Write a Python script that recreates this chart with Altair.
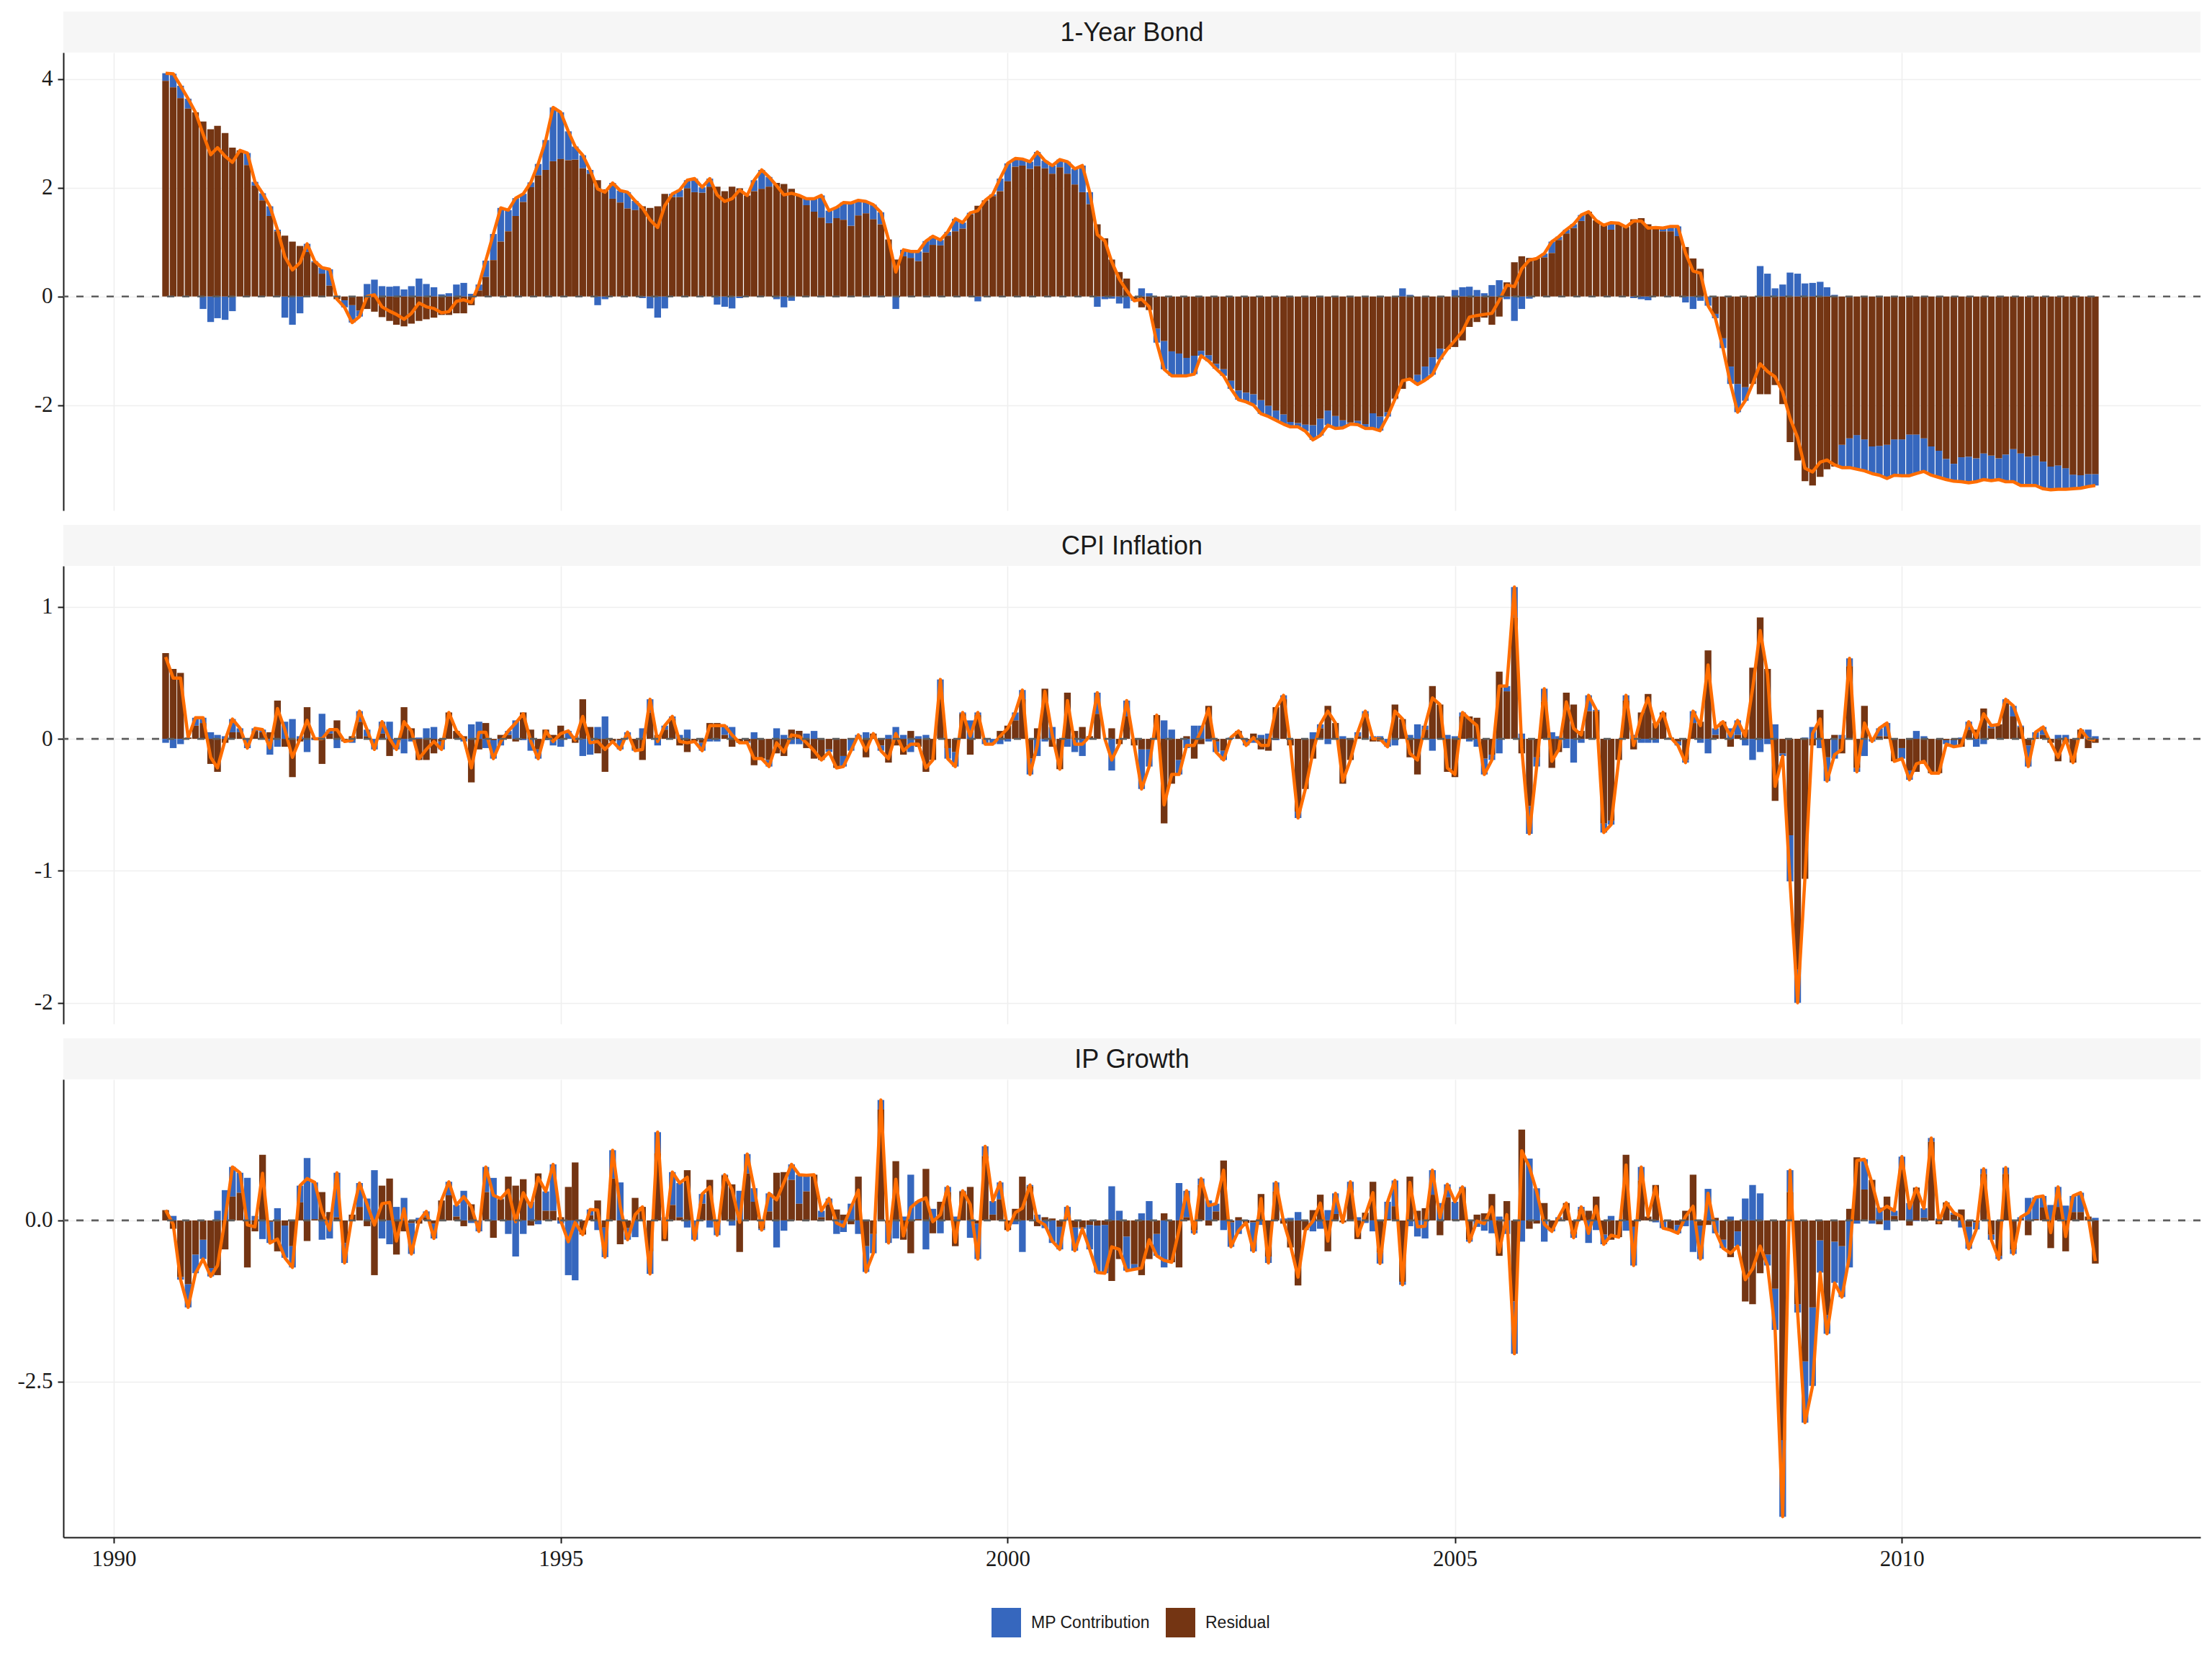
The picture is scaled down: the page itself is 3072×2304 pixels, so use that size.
import altair as alt
import pandas as pd

# ---------------- data ----------------
dates = pd.date_range("1990-08-01", periods=260, freq="MS").strftime("%Y-%m-%d").tolist()

panel_titles = ["1-Year Bond", "CPI Inflation", "IP Growth"]
components = ["MP Contribution", "Residual"]

bond_res = [
    3.97, 3.85, 3.65, 3.46, 3.39, 3.22, 3.08, 3.14, 3.01, 2.74,
    2.69, 2.42, 2.04, 1.77, 1.48, 1.20, 1.12, 1.01, 0.93, 0.82,
    0.63, 0.42, 0.20, -0.05, -0.07, -0.16, -0.26, -0.23, -0.28, -0.38,
    -0.45, -0.52, -0.55, -0.50, -0.45, -0.42, -0.39, -0.34, -0.34, -0.31,
    -0.31, -0.16, 0.11, 0.36, 0.67, 1.01, 1.20, 1.48, 1.74, 2.01,
    2.23, 2.33, 2.49, 2.53, 2.51, 2.52, 2.36, 2.26, 2.14, 1.97,
    1.80, 1.73, 1.62, 1.59, 1.66, 1.63, 1.66, 1.89, 1.83, 1.83,
    1.99, 1.92, 1.91, 2.02, 2.02, 1.94, 2.02, 1.99, 1.86, 1.94,
    1.98, 2.02, 2.09, 2.07, 1.98, 1.86, 1.68, 1.56, 1.45, 1.35,
    1.44, 1.41, 1.30, 1.49, 1.53, 1.42, 1.33, 1.05, 0.68, 0.74,
    0.71, 0.65, 0.81, 0.95, 0.94, 1.12, 1.20, 1.25, 1.51, 1.67,
    1.77, 1.85, 1.94, 2.12, 2.39, 2.41, 2.35, 2.40, 2.36, 2.26,
    2.38, 2.26, 2.06, 1.92, 1.70, 1.33, 1.07, 0.68, 0.45, 0.33,
    -0.05, -0.20, -0.25, -0.59, -0.82, -1.01, -1.05, -1.13, -1.09, -1.00,
    -1.08, -1.24, -1.34, -1.55, -1.73, -1.77, -1.80, -1.91, -2.01, -2.10,
    -2.17, -2.31, -2.33, -2.36, -2.37, -2.25, -2.10, -2.20, -2.28, -2.32,
    -2.29, -2.35, -2.15, -2.21, -2.13, -1.88, -1.70, -1.55, -1.44, -1.29,
    -1.12, -0.96, -0.97, -0.93, -0.81, -0.56, -0.47, -0.39, -0.52, -0.37,
    0.26, 0.63, 0.74, 0.71, 0.70, 0.72, 0.80, 1.04, 1.16, 1.26,
    1.39, 1.56, 1.40, 1.31, 1.23, 1.35, 1.28, 1.42, 1.44, 1.33,
    1.27, 1.20, 1.20, 1.11, 0.91, 0.70, 0.51, -0.01, -0.32, -0.77,
    -1.29, -1.61, -1.67, -1.61, -1.80, -1.80, -1.63, -1.98, -2.68, -3.02,
    -3.40, -3.48, -3.32, -3.18, -3.13, -2.73, -2.61, -2.55, -2.63, -2.76,
    -2.75, -2.73, -2.63, -2.63, -2.54, -2.54, -2.61, -2.76, -2.84, -2.99,
    -3.08, -2.96, -2.95, -2.98, -2.89, -2.93, -2.98, -2.91, -2.81, -2.89,
    -2.95, -2.93, -3.04, -3.13, -3.11, -3.16, -3.28, -3.29, -3.27, -3.27,
]
bond_mp = [
    0.14, 0.25, 0.23, 0.18, 0.00, -0.23, -0.47, -0.40, -0.43, -0.27,
    0.00, 0.22, 0.07, 0.13, 0.18, 0.03, -0.39, -0.52, -0.31, 0.15,
    0.02, 0.11, 0.30, 0.00, -0.13, -0.32, -0.11, 0.23, 0.31, 0.19,
    0.18, 0.19, 0.13, 0.19, 0.33, 0.23, 0.17, 0.04, 0.06, 0.22,
    0.25, 0.05, 0.11, 0.30, 0.48, 0.62, 0.39, 0.33, 0.15, 0.09,
    0.21, 0.55, 0.99, 0.86, 0.53, 0.24, 0.24, 0.07, -0.16, -0.05,
    0.29, 0.22, 0.30, 0.17, -0.03, -0.22, -0.39, -0.22, 0.06, 0.13,
    0.15, 0.25, 0.10, 0.15, -0.15, -0.19, -0.22, -0.03, 0.00, 0.20,
    0.35, 0.18, -0.05, -0.20, -0.08, 0.00, 0.12, 0.24, 0.41, 0.23,
    0.20, 0.32, 0.42, 0.28, 0.22, 0.27, 0.22, 0.00, -0.23, 0.12,
    0.12, 0.18, 0.21, 0.16, 0.10, 0.07, 0.23, 0.11, 0.03, -0.09,
    0.00, 0.03, 0.23, 0.33, 0.15, 0.12, 0.13, 0.26, 0.14, 0.15,
    0.14, 0.22, 0.29, 0.49, 0.22, -0.19, -0.05, -0.04, -0.13, -0.22,
    -0.03, 0.15, 0.06, -0.26, -0.52, -0.45, -0.41, -0.33, -0.34, -0.09,
    -0.11, -0.09, -0.12, -0.15, -0.17, -0.17, -0.20, -0.25, -0.20, -0.18,
    -0.18, -0.09, -0.07, -0.12, -0.27, -0.31, -0.27, -0.23, -0.14, -0.03,
    -0.07, -0.08, -0.28, -0.26, -0.08, -0.01, 0.15, 0.03, -0.18, -0.25,
    -0.32, -0.20, 0.00, 0.12, 0.17, 0.18, 0.12, 0.06, 0.21, 0.30,
    -0.05, -0.45, -0.23, -0.04, 0.00, 0.07, 0.21, 0.06, 0.07, 0.07,
    0.11, 0.00, 0.00, 0.00, 0.13, 0.00, 0.00, -0.03, -0.05, -0.07,
    0.00, 0.06, 0.09, 0.18, -0.11, -0.23, -0.08, -0.16, -0.08, -0.18,
    -0.32, -0.52, -0.25, 0.00, 0.56, 0.42, 0.15, 0.22, 0.44, 0.42,
    0.24, 0.25, 0.27, 0.17, 0.03, -0.42, -0.54, -0.63, -0.58, -0.50,
    -0.54, -0.62, -0.66, -0.67, -0.76, -0.72, -0.61, -0.53, -0.49, -0.38,
    -0.32, -0.45, -0.48, -0.43, -0.48, -0.46, -0.39, -0.50, -0.60, -0.59,
    -0.53, -0.55, -0.50, -0.43, -0.44, -0.39, -0.26, -0.24, -0.23, -0.21,
]

cpi_res = [
    0.65, 0.53, 0.50, 0.01, 0.10, 0.12, -0.19, -0.25, -0.03, 0.05,
    0.05, 0.00, 0.06, 0.05, 0.05, 0.29, -0.06, -0.29, -0.02, 0.24,
    0.01, -0.19, 0.04, 0.14, -0.02, 0.02, 0.13, 0.02, 0.00, 0.04,
    -0.13, 0.00, 0.24, 0.08, -0.16, -0.16, -0.11, -0.02, 0.20, 0.06,
    0.02, -0.33, -0.08, 0.12, -0.01, 0.03, 0.03, -0.02, 0.20, 0.07,
    -0.08, 0.07, 0.03, 0.10, 0.00, -0.03, 0.30, 0.09, -0.11, -0.25,
    -0.02, -0.01, 0.00, -0.08, -0.16, 0.20, 0.03, 0.07, 0.15, -0.05,
    -0.10, -0.02, -0.03, 0.12, 0.12, 0.03, -0.06, -0.03, -0.02, -0.20,
    -0.15, -0.16, -0.11, -0.13, 0.07, 0.06, -0.07, -0.15, -0.16, -0.08,
    -0.22, -0.13, 0.00, 0.00, -0.14, 0.04, -0.05, -0.18, -0.05, -0.12,
    0.06, -0.06, -0.25, -0.16, 0.30, -0.07, -0.10, 0.19, -0.12, 0.18,
    0.00, 0.00, 0.06, 0.10, 0.14, 0.30, -0.15, 0.08, 0.38, -0.06,
    -0.23, 0.35, 0.06, 0.09, 0.02, 0.19, 0.00, 0.08, -0.04, 0.17,
    -0.05, -0.08, -0.08, 0.18, -0.64, -0.34, -0.16, 0.02, -0.15, -0.04,
    0.25, -0.02, -0.09, 0.00, 0.06, -0.01, 0.04, -0.08, -0.09, 0.24,
    0.30, -0.05, -0.55, -0.38, -0.15, 0.08, 0.25, 0.12, -0.34, -0.16,
    0.02, 0.19, -0.02, -0.02, 0.00, 0.26, 0.15, -0.14, -0.27, 0.07,
    0.40, 0.26, -0.25, -0.29, 0.17, 0.17, 0.16, -0.15, -0.12, 0.51,
    0.36, 0.92, -0.11, -0.51, -0.14, 0.28, -0.22, -0.10, 0.35, 0.26,
    0.06, 0.21, 0.21, -0.64, -0.62, -0.16, 0.29, -0.08, 0.20, 0.34,
    0.12, 0.20, 0.01, -0.02, -0.16, 0.12, 0.13, 0.67, 0.03, 0.13,
    -0.06, 0.03, 0.07, 0.54, 0.92, 0.53, -0.47, -0.11, -0.73, -1.75,
    -1.06, -0.05, 0.22, -0.14, 0.03, -0.11, 0.55, -0.22, 0.25, 0.00,
    0.02, 0.02, -0.17, -0.07, -0.24, -0.25, -0.19, -0.26, -0.26, -0.01,
    -0.01, -0.06, 0.07, 0.07, 0.23, 0.08, 0.11, 0.27, 0.17, 0.09,
    -0.05, 0.01, 0.03, -0.03, -0.17, -0.03, -0.18, 0.07, -0.07, -0.03,
]
cpi_mp = [
    -0.03, -0.07, -0.04, 0.00, 0.06, 0.04, 0.05, 0.03, 0.02, 0.10,
    0.03, -0.07, 0.02, 0.02, -0.12, -0.06, 0.13, 0.15, 0.02, -0.10,
    -0.01, 0.19, 0.03, -0.07, 0.00, -0.03, 0.08, 0.05, -0.08, 0.09,
    0.13, -0.08, -0.11, -0.02, 0.01, 0.08, 0.09, -0.06, 0.00, 0.00,
    -0.02, 0.11, 0.13, -0.07, -0.14, -0.05, 0.03, 0.14, -0.01, -0.09,
    -0.07, -0.01, -0.05, -0.06, 0.06, 0.02, -0.13, -0.12, 0.09, 0.17,
    0.00, -0.07, 0.05, -0.01, 0.08, 0.10, -0.05, 0.03, 0.02, 0.03,
    0.07, 0.00, -0.06, -0.02, -0.02, 0.07, 0.09, 0.00, -0.01, 0.05,
    0.00, -0.05, 0.08, 0.03, -0.04, -0.04, 0.04, 0.06, 0.00, -0.02,
    0.00, -0.08, -0.09, 0.03, 0.05, 0.00, -0.04, 0.03, 0.09, 0.03,
    -0.10, 0.02, 0.03, 0.00, 0.15, -0.08, -0.11, 0.01, 0.14, 0.02,
    -0.04, -0.04, -0.04, -0.02, 0.06, 0.07, -0.12, -0.13, -0.02, 0.09,
    0.00, -0.06, -0.10, -0.13, 0.00, 0.16, 0.00, -0.24, 0.00, 0.12,
    0.00, -0.30, -0.13, 0.00, 0.14, 0.07, -0.11, -0.07, 0.10, 0.10,
    -0.02, -0.08, -0.07, 0.01, 0.00, -0.04, -0.03, 0.03, 0.04, -0.01,
    0.03, 0.00, -0.05, 0.00, 0.05, 0.03, -0.04, 0.00, 0.02, 0.00,
    0.03, 0.02, 0.02, 0.02, -0.06, -0.05, 0.00, 0.03, 0.11, 0.03,
    -0.09, 0.00, 0.03, 0.02, 0.03, -0.02, -0.06, -0.12, -0.04, -0.11,
    0.04, 0.23, 0.04, -0.21, -0.07, 0.10, 0.05, 0.02, -0.07, -0.18,
    -0.03, 0.12, 0.01, -0.07, -0.03, 0.00, 0.04, 0.03, -0.03, -0.03,
    -0.03, 0.00, 0.00, -0.03, -0.02, 0.09, -0.03, -0.11, 0.05, 0.00,
    0.08, 0.11, -0.05, -0.16, -0.10, -0.04, 0.11, -0.02, -0.35, -0.25,
    0.01, 0.09, -0.07, -0.18, -0.15, 0.03, 0.06, -0.03, -0.13, -0.02,
    0.06, 0.10, 0.00, -0.08, -0.07, 0.06, 0.02, 0.00, 0.00, -0.03,
    -0.05, 0.01, 0.06, -0.06, -0.04, 0.02, 0.00, 0.03, 0.08, 0.01,
    -0.16, 0.04, 0.06, 0.00, 0.03, 0.03, 0.00, 0.00, 0.07, 0.02,
]

ip_res = [
    0.16, -0.13, -0.88, -0.99, -0.53, -0.30, -0.74, -0.85, -0.45, 0.37,
    0.43, -0.73, -0.17, 1.02, -0.02, -0.48, -0.08, -0.40, 0.28, -0.32,
    0.02, 0.44, 0.13, 0.05, -0.35, 0.09, 0.21, -0.09, -0.85, 0.54,
    0.65, -0.53, -0.17, -0.04, -0.05, 0.05, -0.05, 0.31, 0.39, 0.06,
    -0.09, 0.25, 0.00, 0.44, -0.27, 0.33, 0.68, 0.54, 0.64, -0.08,
    0.73, 0.15, 0.15, 0.05, 0.52, 0.90, -0.22, 0.08, 0.31, -0.11,
    0.65, -0.37, -0.12, 0.35, 0.21, -0.48, 1.04, -0.32, 0.24, 0.05,
    0.78, 0.00, 0.26, 0.63, -0.03, 0.70, 0.56, -0.49, 0.73, 0.29,
    -0.13, 0.14, 0.74, 0.75, 0.63, 0.26, 0.45, 0.71, 0.05, 0.25,
    0.17, 0.09, -0.06, 0.68, -0.40, -0.21, 1.72, -0.05, 0.92, -0.30,
    -0.51, 0.02, 0.80, -0.20, 0.29, 0.44, -0.40, 0.45, 0.52, -0.05,
    1.00, 0.09, 0.33, -0.15, 0.18, 0.68, 0.53, -0.09, 0.05, 0.03,
    -0.10, 0.00, -0.11, -0.11, -0.07, -0.08, -0.07, -0.94, -0.60, -0.25,
    -0.68, -0.85, -0.60, -0.21, 0.11, -0.65, -0.73, 0.05, -0.15, 0.55,
    -0.08, 0.14, 0.93, -0.03, 0.05, -0.04, -0.03, 0.41, -0.56, 0.45,
    -0.05, -0.42, -1.01, -0.15, 0.16, 0.40, -0.48, 0.10, -0.03, 0.47,
    -0.29, 0.12, 0.60, -0.50, 0.02, 0.22, -0.95, 0.68, 0.15, 0.19,
    0.40, -0.23, 0.36, 0.02, 0.50, -0.30, 0.09, 0.11, 0.41, -0.55,
    0.30, -1.26, 1.41, -0.13, -0.05, 0.27, -0.13, 0.03, 0.27, -0.21,
    0.17, 0.15, 0.37, -0.22, -0.30, -0.26, 1.02, -0.10, 0.62, 0.06,
    0.55, -0.02, -0.15, -0.07, 0.15, 0.71, -0.08, -0.07, 0.04, -0.30,
    -0.57, -0.17, -1.26, -1.30, -0.82, -0.53, -1.06, -3.41, 0.44, -1.30,
    -2.19, -1.35, -0.31, -1.47, -0.33, -0.40, 0.18, 0.98, 0.48, 0.63,
    -0.06, 0.37, 0.07, 0.79, -0.08, 0.51, 0.04, 1.22, -0.06, 0.28,
    0.09, 0.17, -0.10, -0.03, 0.72, -0.22, -0.55, 0.72, -0.45, 0.02,
    -0.23, 0.02, 0.20, -0.43, 0.21, -0.48, 0.13, 0.13, 0.06, -0.67,
]
ip_mp = [
    0.00, 0.07, -0.04, -0.36, -0.29, -0.30, -0.13, 0.15, 0.47, 0.46,
    0.31, 0.66, 0.07, -0.29, -0.33, 0.19, -0.50, -0.33, 0.26, 0.97,
    0.57, -0.30, -0.28, 0.69, -0.31, -0.01, 0.37, 0.34, 0.78, -0.28,
    -0.37, 0.21, 0.35, -0.48, 0.04, 0.09, -0.23, 0.00, 0.21, 0.18,
    0.46, -0.04, -0.17, 0.39, 0.66, 0.01, -0.21, -0.56, -0.21, 0.29,
    -0.06, 0.30, 0.72, -0.05, -0.85, -0.93, 0.00, 0.09, -0.15, -0.46,
    0.44, 0.59, -0.18, -0.26, 0.00, -0.35, 0.33, 0.05, 0.51, 0.53,
    -0.11, -0.30, 0.15, -0.11, -0.20, 0.01, -0.08, 0.46, 0.30, 0.21,
    -0.02, 0.28, -0.42, -0.16, 0.24, 0.45, 0.25, 0.00, 0.10, 0.09,
    -0.21, -0.18, 0.26, -0.21, -0.40, -0.30, 0.15, -0.30, -0.28, 0.06,
    0.71, 0.28, -0.45, 0.18, -0.20, 0.08, 0.06, 0.01, -0.27, -0.55,
    0.15, 0.21, 0.26, 0.00, -0.06, -0.49, 0.02, 0.09, -0.12, -0.35,
    -0.35, 0.21, -0.36, -0.02, -0.38, -0.73, -0.75, 0.53, 0.15, -0.53,
    -0.08, 0.11, 0.30, -0.34, -0.73, 0.00, 0.58, 0.41, -0.05, 0.10,
    0.31, 0.12, -0.15, -0.38, -0.21, 0.01, -0.45, -0.07, -0.10, 0.14,
    0.03, 0.04, 0.13, 0.00, -0.17, -0.13, 0.16, 0.32, 0.00, 0.13,
    0.05, -0.04, -0.17, -0.17, 0.27, 0.40, -0.05, -0.09, -0.25, -0.28,
    0.38, 0.27, 0.20, 0.27, 0.02, -0.03, -0.10, -0.16, -0.20, 0.06,
    -0.21, -0.81, -0.33, 0.96, 0.50, -0.33, -0.04, 0.02, 0.00, -0.06,
    0.04, -0.35, -0.15, -0.15, 0.07, 0.00, -0.16, -0.60, 0.21, 0.00,
    -0.03, -0.10, 0.00, -0.13, -0.09, -0.49, -0.52, 0.49, -0.20, -0.13,
    0.06, -0.23, 0.34, 0.55, 0.42, -0.17, -0.64, -1.19, 0.34, -0.13,
    -0.95, -1.22, -0.50, -0.29, -0.64, -0.79, -0.73, -0.05, 0.47, -0.05,
    0.20, -0.15, 0.08, 0.20, 0.27, -0.01, 0.15, 0.06, 0.03, 0.00,
    0.03, -0.11, -0.34, -0.11, 0.08, -0.08, -0.05, 0.10, -0.07, 0.03,
    0.35, 0.34, 0.18, 0.24, 0.31, 0.23, 0.25, 0.30, 0.00, 0.04,
]

year_ticks = [1990, 1995, 2000, 2005, 2010]
bond_ticks = [-2, 0, 2, 4]
cpi_ticks = [-2, -1, 0, 1]
ip_ticks = [-2.5, 0.0]

# ---------------- styling ----------------
W = 2968
H = 636
BLUE = "#3667BE"
BROWN = "#743513"
ORANGE = "#FF6D00"
STRIP_BG = "#F6F6F6"
SERIF = "Liberation Serif"
SANS = "Liberation Sans"
MINUS = "\u2212"

xscale = alt.Scale(
    type="utc",
    domain=[alt.DateTime(year=1989, month=6, date=24, utc=True),
            alt.DateTime(year=2013, month=4, date=20, utc=True)],
)
xvalues = [alt.DateTime(year=y, month=1, date=1, utc=True) for y in year_ticks]


def long_df(mp, res):
    rows = []
    for d, m, r in zip(dates, mp, res):
        rows.append({"date": d, "component": components[0], "ord": 1, "value": m})
        rows.append({"date": d, "component": components[1], "ord": 0, "value": r})
    return pd.DataFrame(rows)


def total_df(mp, res):
    return pd.DataFrame({"date": dates, "total": [round(m + r, 4) for m, r in zip(mp, res)]})


def strip(title, h, top):
    base = alt.Chart(pd.DataFrame({"t": [title]}))
    rect = base.mark_rect(color=STRIP_BG).encode(
        x=alt.value(0), x2=alt.value(W), y=alt.value(top), y2=alt.value(h))
    text = base.mark_text(font=SANS, fontSize=36, color="#1A1A1A",
                          align="center", baseline="middle").encode(
        text="t:N", x=alt.value(W / 2), y=alt.value((top + h) / 2 + 1))
    return alt.layer(rect, text).properties(width=W, height=h)


def panel(mp, res, ydomain, yticks, fmt, bottom):
    if bottom:
        xaxis = alt.Axis(values=xvalues, format="%Y", title=None, grid=True,
                         labels=True, ticks=True, domain=True)
    else:
        xaxis = alt.Axis(values=xvalues, title=None, grid=True,
                         labels=False, ticks=False, domain=False)
    yscale = alt.Scale(domain=ydomain, nice=False, zero=False)
    yaxis = alt.Axis(values=yticks, title=None, grid=True,
                     labelExpr="replace(format(datum.value, '%s'), '%s', '-')" % (fmt, MINUS))
    bars = alt.Chart(long_df(mp, res)).mark_bar(size=9.35).encode(
        x=alt.X("date:T", scale=xscale, axis=xaxis),
        y=alt.Y("value:Q", scale=yscale, axis=yaxis, stack="zero"),
        color=alt.Color(
            "component:N",
            scale=alt.Scale(domain=components, range=[BLUE, BROWN]),
            legend=alt.Legend(title=None, orient="none", legendX=1289, legendY=2217,
                              direction="horizontal", symbolType="square",
                              symbolSize=1681, symbolStrokeWidth=0,
                              labelFont=SANS, labelFontSize=23, labelColor="#1A1A1A",
                              labelLimit=600, labelOffset=14, columnPadding=22),
        ),
        order=alt.Order("ord:Q", sort="ascending"),
    )
    line = alt.Chart(total_df(mp, res)).mark_line(
        color=ORANGE, strokeWidth=4.5, strokeJoin="round").encode(
        x=alt.X("date:T", scale=xscale, axis=xaxis),
        y=alt.Y("total:Q", scale=yscale, axis=yaxis),
    )
    zero = alt.Chart(pd.DataFrame({"y": [0]})).mark_rule(
        color="#5E5E5E", strokeDash=[10, 11], strokeWidth=2.6).encode(
        y=alt.Y("y:Q", scale=yscale, axis=yaxis))
    return alt.layer(bars, line, zero).properties(width=W, height=H)


chart = alt.vconcat(
    strip(panel_titles[0], 57, 0),
    panel(bond_mp, bond_res, [-3.94, 4.49], bond_ticks, "d", False),
    strip(panel_titles[1], 77, 20),
    panel(cpi_mp, cpi_res, [-2.16, 1.31], cpi_ticks, "d", False),
    strip(panel_titles[2], 77, 20),
    panel(ip_mp, ip_res, [-4.92, 2.19], ip_ticks, ".1f", True),
    spacing=0,
).properties(
    padding={"left": 5, "top": 8, "right": 5, "bottom": 5}
).configure_view(
    strokeWidth=0
).configure_axis(
    labelFont=SERIF, labelFontSize=31, labelColor="#1A1A1A",
    domainColor="#1A1A1A", domainWidth=2, tickColor="#1A1A1A", tickWidth=2,
    tickSize=8, labelPadding=7, gridColor="#EFEFEF", gridWidth=1.6,
).configure_axisY(
    minExtent=75, maxExtent=75
)

chart.save("out.html", embed_options={"renderer": "svg", "actions": False})
